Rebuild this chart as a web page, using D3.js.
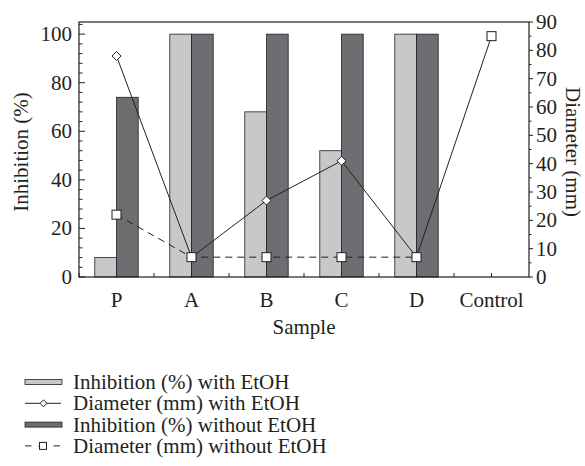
<!DOCTYPE html>
<html>
<head>
<meta charset="utf-8">
<script src="https://cdn.jsdelivr.net/npm/d3@7"></script>
<style>
  body { margin: 0; background: #fff; }
  text { font-family: "Liberation Serif", "DejaVu Serif", serif; fill: #231f20; }
</style>
</head>
<body>
<svg width="585" height="466"></svg>
<script>
// data
var samples = ["P", "A", "B", "C", "D", "Control"];
var inhibWith = [8, 100, 68, 52, 100, 0];
var inhibWithout = [74, 100, 100, 100, 100, 0];
var diamWith = [78, 7, 27, 41, 7, 85];
var diamWithout = [22, 7, 7, 7, 7, 85];
var legendLabels = ["Inhibition (%) with EtOH", "Diameter (mm) with EtOH",
                    "Inhibition (%) without EtOH", "Diameter (mm) without EtOH"];

var svg = d3.select("svg");
var pL = 79, pR = 529, pT = 22, pB = 277;
var ink = "#231f20", light = "#c7c8ca", dark = "#6d6e71";
var fs = 21;

var x = d3.scaleBand().domain(samples).range([pL, pR]).padding(0);
var yL = d3.scaleLinear().domain([0, 105]).range([pB, pT]);
var yR = d3.scaleLinear().domain([0, 90]).range([pB, pT]);
var barW = 21.7;

function cx(i) { return x(samples[i]) + x.bandwidth() / 2; }

// bars
var bars = svg.append("g");
samples.forEach(function (s, i) {
    if (inhibWith[i] > 0) {
        bars.append("rect")
            .attr("x", cx(i) - barW).attr("y", yL(inhibWith[i]))
            .attr("width", barW).attr("height", pB - yL(inhibWith[i]))
            .attr("fill", light).attr("stroke", ink).attr("stroke-width", 0.8);
    }
    if (inhibWithout[i] > 0) {
        bars.append("rect")
            .attr("x", cx(i)).attr("y", yL(inhibWithout[i]))
            .attr("width", barW).attr("height", pB - yL(inhibWithout[i]))
            .attr("fill", dark).attr("stroke", ink).attr("stroke-width", 0.8);
    }
});

// frame
svg.append("rect").attr("x", pL).attr("y", pT)
    .attr("width", pR - pL).attr("height", pB - pT)
    .attr("fill", "none").attr("stroke", ink).attr("stroke-width", 1.2);

// left axis: ticks inward
var gl = svg.append("g");
d3.range(0, 105, 4).forEach(function (v) {
    var major = v % 20 === 0;
    gl.append("line").attr("x1", pL).attr("x2", pL + (major ? 6 : 3.5))
        .attr("y1", yL(v)).attr("y2", yL(v)).attr("stroke", ink).attr("stroke-width", 1);
});
[0, 20, 40, 60, 80, 100].forEach(function (v) {
    gl.append("text").attr("x", pL - 7).attr("y", yL(v) + 7)
        .attr("text-anchor", "end").attr("font-size", fs).text(v);
});

// right axis: ticks outward
var gr = svg.append("g");
d3.range(0, 91, 5).forEach(function (v) {
    var major = v % 10 === 0;
    gr.append("line").attr("x1", pR).attr("x2", pR + (major ? 4 : 2.5))
        .attr("y1", yR(v)).attr("y2", yR(v)).attr("stroke", ink).attr("stroke-width", 1);
});
d3.range(0, 91, 10).forEach(function (v) {
    gr.append("text").attr("x", pR + 7).attr("y", yR(v) + 7)
        .attr("font-size", fs).text(v);
});

// x ticks: centers and boundaries, inward
var gx = svg.append("g");
samples.forEach(function (s, i) {
    [x(s), cx(i)].forEach(function (px) {
        gx.append("line").attr("x1", px).attr("x2", px)
            .attr("y1", pB).attr("y2", pB - 4).attr("stroke", ink);
    });
    gx.append("text").attr("x", cx(i)).attr("y", pB + 30)
        .attr("text-anchor", "middle").attr("font-size", fs).text(s);
});

// lines
var line = d3.line()
    .x(function (d, i) { return cx(i); })
    .y(function (d) { return yR(d); });

svg.append("path").datum(diamWithout.slice(0, 5)).attr("d", line)
    .attr("fill", "none").attr("stroke", ink).attr("stroke-width", 1)
    .attr("stroke-dasharray", "7,5");
svg.append("path").datum(diamWith).attr("d", line)
    .attr("fill", "none").attr("stroke", ink).attr("stroke-width", 1);

function diamond(g, px, py, r) {
    g.append("path")
        .attr("d", "M" + px + "," + (py - r) + "L" + (px + r) + "," + py +
            "L" + px + "," + (py + r) + "L" + (px - r) + "," + py + "Z")
        .attr("fill", "#fff").attr("stroke", ink).attr("stroke-width", 1);
}
function square(g, px, py, h) {
    g.append("rect").attr("x", px - h).attr("y", py - h)
        .attr("width", 2 * h).attr("height", 2 * h)
        .attr("fill", "#fff").attr("stroke", ink).attr("stroke-width", 1);
}

var marks = svg.append("g");
diamWith.forEach(function (v, i) { diamond(marks, cx(i), yR(v), 4.5); });
diamWithout.forEach(function (v, i) { square(marks, cx(i), yR(v), 4.5); });

// axis titles
svg.append("text").attr("x", (pL + pR) / 2).attr("y", 334)
    .attr("text-anchor", "middle").attr("font-size", fs).text("Sample");
svg.append("text").attr("transform", "translate(28,152) rotate(-90)")
    .attr("text-anchor", "middle").attr("font-size", fs).text("Inhibition (%)");
svg.append("text").attr("transform", "translate(566,152) rotate(90)")
    .attr("text-anchor", "middle").attr("font-size", fs).text("Diameter (mm)");

// legend
var lg = svg.append("g");
legendLabels.forEach(function (lab, i) {
    var ly = 382 + i * 21.3;
    if (i === 0 || i === 2) {
        lg.append("rect").attr("x", 25).attr("y", ly - 2.5).attr("width", 37).attr("height", 5)
            .attr("fill", i === 0 ? light : dark).attr("stroke", ink).attr("stroke-width", 0.8);
    } else if (i === 1) {
        lg.append("line").attr("x1", 25).attr("x2", 61).attr("y1", ly).attr("y2", ly)
            .attr("stroke", ink);
        diamond(lg, 43.5, ly, 3.5);
    } else {
        lg.append("line").attr("x1", 25).attr("x2", 60).attr("y1", ly).attr("y2", ly)
            .attr("stroke", ink).attr("stroke-dasharray", "6.5,7,8,7,6.5");
        square(lg, 43, ly, 3.5);
    }
    lg.append("text").attr("x", 73).attr("y", ly + 7).attr("font-size", fs).text(lab);
});
</script>
</body>
</html>
